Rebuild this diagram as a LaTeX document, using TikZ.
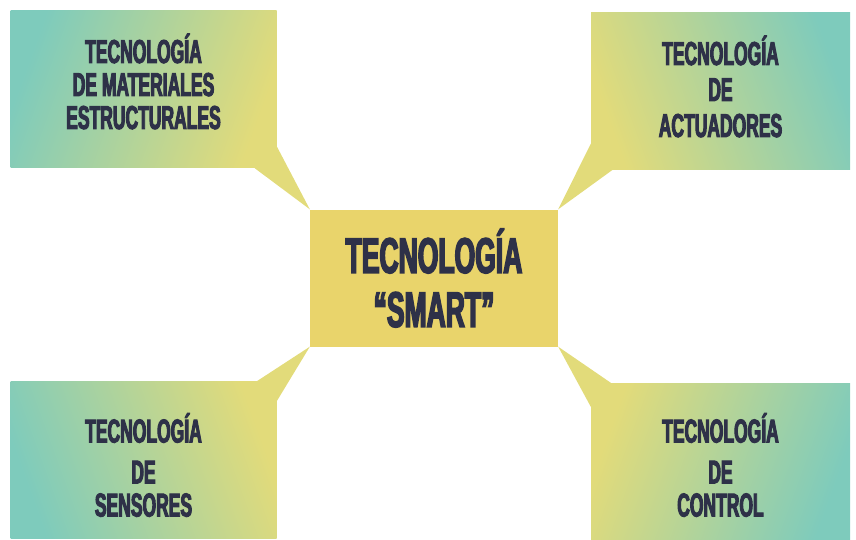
\documentclass[tikz,border=0pt]{standalone}
\usepackage{fontspec}
\setmainfont{Liberation Sans}[FakeStretch=0.53,FakeBold=3]
\usetikzlibrary{calc,positioning}

\definecolor{lemon}{HTML}{E9D46B}
\definecolor{lime}{HTML}{E2DB7A}
\definecolor{aqua}{HTML}{7ECBBC}
\definecolor{ink}{HTML}{2E3148}

\tikzset{
  techbox/.style={rectangle,inner sep=0pt,minimum width=266pt,minimum height=157pt,
    top color=aqua,bottom color=lime},
  techtext/.style={inner sep=0pt,text=ink,align=center,
    font=\bfseries\fontsize{33}{33}\selectfont},
  hubbox/.style={rectangle,fill=lemon,inner sep=0pt,minimum width=248pt,minimum height=137pt,
    text=ink,align=center,font=\bfseries\fontsize{50}{54}\selectfont},
  tail/.style={fill=lime}
}

\begin{document}
\begin{tikzpicture}[x=1pt,y=-1pt]
  \useasboundingbox (0,0) rectangle (856,540);

  % centre
  \node[hubbox] (smart) at (434,278) {TECNOLOGÍA\\``SMART''};

  % the four fields around it
  \node[techbox,shading angle=70] (mat) at (143.5,89.5) {};
  \node[techbox,shading angle=-70,minimum width=259pt] (act) at (720.5,91) {};
  \node[techbox,shading angle=110] (sen) at (143.5,460) {};
  \node[techbox,shading angle=-110,minimum width=259pt] (ctl) at (720.5,461.5) {};

  % their labels
  \node[techtext] (matt) at ($(mat)+(0,-8)$) {TECNOLOGÍA\\DE MATERIALES\\ESTRUCTURALES};
  \node[techtext] (actt) at ($(act)+(0,-4.5)$) {TECNOLOGÍA\\[3pt]DE\\[3pt]ACTUADORES};
  \node[techtext] (sent) at ($(sen)+(0,5)$) {TECNOLOGÍA\\[8pt]DE\\SENSORES};
  \node[techtext] (ctlt) at ($(ctl)+(0,3.5)$) {TECNOLOGÍA\\[8pt]DE\\CONTROL};

  % tails pointing to the centre box
  \fill[tail] ($(mat.south east)+(-22,0)$) -- (smart.north west) -- ($(mat.south east)+(0,-22)$) -- cycle;
  \fill[tail] ($(act.south west)+(22,0)$) -- (smart.north east) -- ($(act.south west)+(0,-26)$) -- cycle;
  \fill[tail] ($(sen.north east)+(-20,0)$) -- (smart.south west) -- ($(sen.north east)+(0,20)$) -- cycle;
  \fill[tail] ($(ctl.north west)+(20,0)$) -- (smart.south east) -- ($(ctl.north west)+(0,24)$) -- cycle;
\end{tikzpicture}
\end{document}
